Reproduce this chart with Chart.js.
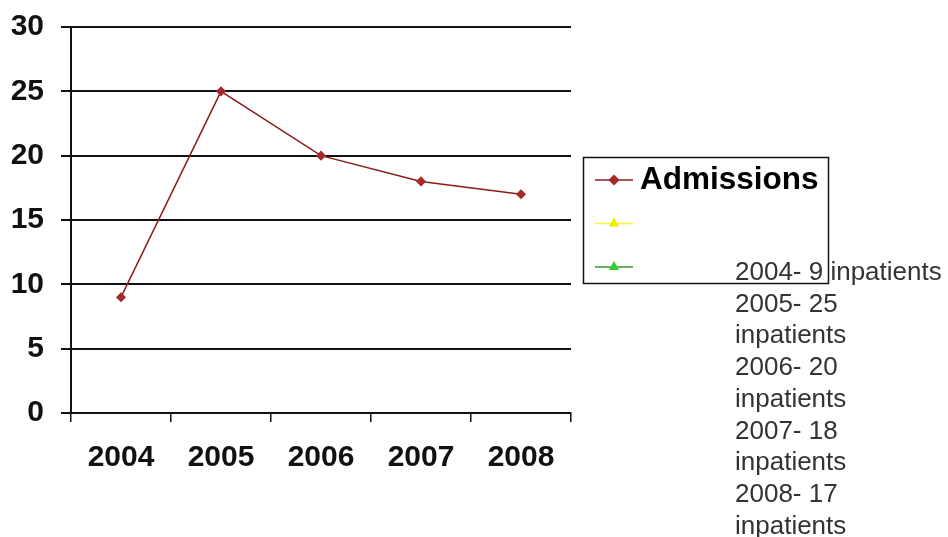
<!DOCTYPE html>
<html>
<head>
<meta charset="utf-8">
<script src="https://cdn.jsdelivr.net/npm/chart.js@4.4.1/dist/chart.umd.min.js"></script>
<style>
  body { margin: 0; background: #fff; }
  #wrap { position: relative; width: 948px; height: 537px; }
  #notes {
    position: absolute; left: 735px; top: 256px;
    font: 26px "Liberation Sans", Arial, sans-serif;
    line-height: 31.7px; color: #333;
  }
  #notes div { width: 215px; }
</style>
</head>
<body>
<div id="wrap">
  <canvas id="chart" width="948" height="537"></canvas>
  <div id="notes"></div>
</div>
<script>
const years = ["2004", "2005", "2006", "2007", "2008"];
const admissions = [9, 25, 20, 18, 17];
const seriesNames = ["Admissions", "", ""];
const yMin = 0, yMax = 30, yStep = 5;

// the notes on the right, one entry per year
const notes = document.getElementById("notes");
years.forEach((y, i) => {
  const d = document.createElement("div");
  d.textContent = y + "- " + admissions[i] + " inpatients";
  notes.appendChild(d);
});

const boxLegend = {
  id: "boxLegend",
  afterDraw(chart) {
    const ctx = chart.ctx;
    ctx.save();
    ctx.strokeStyle = "#111";
    ctx.lineWidth = 1.5;
    ctx.strokeRect(583.5, 157.5, 245, 126);
    chart.data.datasets.forEach((ds, i) => {
      const y = 180 + i * 43.5;
      ctx.strokeStyle = ds.borderColor;
      ctx.lineWidth = 1.5;
      ctx.beginPath();
      ctx.moveTo(595, y);
      ctx.lineTo(633, y);
      ctx.stroke();
      ctx.fillStyle = ds.pointBackgroundColor;
      ctx.strokeStyle = ds.pointBackgroundColor;
      Chart.helpers.drawPoint(ctx, { pointStyle: ds.pointStyle, radius: 4.5, rotation: 0, borderWidth: 1 }, 614, y);
      ctx.fillStyle = "#000";
      ctx.font = "bold 31.5px 'Liberation Sans', Arial, sans-serif";
      ctx.textBaseline = "middle";
      ctx.fillText(ds.label, 640, y);
    });
    ctx.restore();
  }
};

new Chart(document.getElementById("chart"), {
  type: "line",
  data: {
    labels: years,
    datasets: [
      {
        label: seriesNames[0],
        data: admissions,
        borderColor: "#8b1c1c",
        borderWidth: 1.5,
        pointStyle: "rectRot",
        pointRadius: 4,
        pointBackgroundColor: "#a52a2a",
        pointBorderColor: "#a52a2a",
        tension: 0,
      },
      {
        label: seriesNames[1],
        data: [],
        borderColor: "#f5f53a",
        pointStyle: "triangle",
        pointBackgroundColor: "#eeee00",
      },
      {
        label: seriesNames[2],
        data: [],
        borderColor: "#339933",
        pointStyle: "triangle",
        pointBackgroundColor: "#33cc33",
      },
    ],
  },
  options: {
    responsive: false,
    animation: false,
    layout: { padding: { top: 27, right: 377, left: 0, bottom: 0 } },
    plugins: { legend: { display: false }, tooltip: { enabled: false } },
    scales: {
      x: {
        offset: true,
        afterFit: (s) => { s.height = 124; },
        grid: {
          offset: true,
          drawOnChartArea: false,
          drawTicks: true,
          tickLength: 9,
          color: "#111",
          lineWidth: 1.5,
        },
        border: { color: "#111", width: 2 },
        ticks: {
          color: "#111",
          padding: 18,
          font: { family: "'Liberation Sans', Arial, sans-serif", size: 30, weight: "bold" },
        },
      },
      y: {
        min: yMin,
        max: yMax,
        afterFit: (s) => { s.width = 71; s.paddingTop = 0; s.paddingBottom = 0; },
        grid: {
          color: "#111",
          lineWidth: 2,
          tickLength: 10,
        },
        border: { color: "#111", width: 2 },
        ticks: {
          stepSize: yStep,
          color: "#111",
          padding: 17,
          font: { family: "'Liberation Sans', Arial, sans-serif", size: 30, weight: "bold" },
        },
      },
    },
  },
  plugins: [boxLegend],
});
</script>
</body>
</html>
